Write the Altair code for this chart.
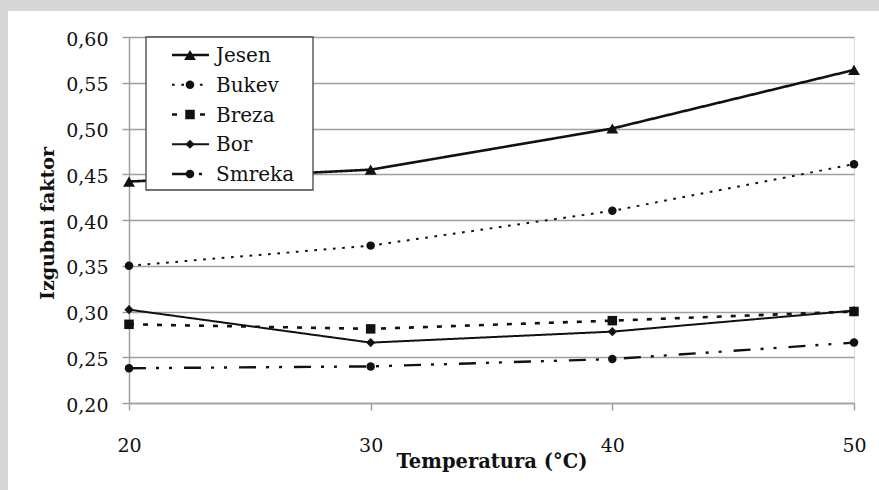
import altair as alt
import pandas as pd

# Loss factor of five wood species measured at four temperatures
temperatures = [20, 30, 40, 50]
series_names = ["Jesen", "Bukev", "Breza", "Bor", "Smreka"]
jesen = [0.442, 0.455, 0.500, 0.564]
bukev = [0.350, 0.372, 0.410, 0.461]
breza = [0.286, 0.281, 0.290, 0.300]
bor = [0.302, 0.266, 0.278, 0.301]
smreka = [0.238, 0.240, 0.248, 0.266]
y_ticks = [0.20, 0.25, 0.30, 0.35, 0.40, 0.45, 0.50, 0.55, 0.60]

# Per-series styling (same order as series_names)
marker_shapes = ["triangle-up", "circle", "square", "diamond", "circle"]
dash_patterns = [[1, 0], [2.7, 6.6], [5, 9], [1, 0], [17, 10, 3, 10, 3, 12]]
line_widths = [2.6, 2.0, 2.6, 2.0, 2.4]
marker_sizes = [140, 72, 90, 85, 72]

values_by_series = [jesen, bukev, breza, bor, smreka]
rows = []
for name, vals in zip(series_names, values_by_series):
    for t, v in zip(temperatures, vals):
        rows.append({"series": name, "temp": t, "value": v})
df = pd.DataFrame(rows)
legend_df = pd.DataFrame({"series": series_names})
one_row = pd.DataFrame({"k": [0]})

SERIF = "DejaVu Serif"
INK = "#111111"
GRID = "#a0a0a0"
BAND = "#d5d6d8"

dash_scale = alt.Scale(domain=series_names, range=dash_patterns)
shape_scale = alt.Scale(domain=series_names, range=marker_shapes)
width_scale = alt.Scale(type="ordinal", domain=series_names, range=line_widths)
size_scale = alt.Scale(type="ordinal", domain=series_names, range=marker_sizes)

x_enc = alt.X(
    "temp:Q",
    scale=alt.Scale(domain=[20, 50], nice=False, zero=False),
    axis=alt.Axis(
        values=temperatures, grid=False, title="Temperatura (°C)",
        titleFontSize=19.5, titleFontWeight="bold", titleColor=INK,
        titleX=362.5, titleY=64, titleAlign="center", titleBaseline="alphabetic",
        labelFontSize=19, labelColor=INK, labelPadding=41,
        labelBaseline="alphabetic", labelFlush=False,
        domainColor=GRID, domainWidth=1.5, tickColor=GRID, tickWidth=1.5, tickSize=7,
    ),
)
y_enc = alt.Y(
    "value:Q",
    scale=alt.Scale(domain=[0.2, 0.6], nice=False, zero=False),
    axis=alt.Axis(
        values=y_ticks, grid=True, gridColor=GRID, gridWidth=1.5,
        labelExpr="replace(format(datum.value, '.2f'), '.', ',')",
        labelFontSize=19, labelColor=INK, labelPadding=14, labelOffset=2,
        labelFlush=False,
        domainColor=GRID, domainWidth=1.5, tickColor=GRID, tickWidth=1.5, tickSize=7,
        title="Izgubni faktor", titleFontSize=19, titleFontWeight="bold",
        titleColor=INK, titleAngle=270, titleX=-76, titleY=186, titleAlign="center",
        titleBaseline="alphabetic",
    ),
)

lines = alt.Chart(df).mark_line(interpolate="linear", color=INK).encode(
    x=x_enc,
    y=y_enc,
    detail="series:N",
    strokeDash=alt.StrokeDash("series:N", scale=dash_scale, legend=None),
    strokeWidth=alt.StrokeWidth("series:N", scale=width_scale, legend=None),
)
points = alt.Chart(df).mark_point(filled=True, color=INK, opacity=1).encode(
    x=x_enc,
    y=y_enc,
    shape=alt.Shape("series:N", scale=shape_scale, legend=None),
    size=alt.Size("series:N", scale=size_scale, legend=None),
)
main = alt.layer(lines, points)

# Grey frame strips along the top and left edge
band_top = alt.Chart(one_row).mark_rect(color=BAND).encode(
    x=alt.value(-129), x2=alt.value(750), y=alt.value(-37), y2=alt.value(-26)
)
band_left = alt.Chart(one_row).mark_rect(color=BAND).encode(
    x=alt.value(-129), x2=alt.value(-121), y=alt.value(-37), y2=alt.value(453)
)

# Hand-built legend box with line + marker samples
legend_box = alt.Chart(one_row).mark_rect(fill="white", stroke="#444444", strokeWidth=1.3).encode(
    x=alt.value(17), x2=alt.value(184), y=alt.value(0), y2=alt.value(153)
)
legend_y = alt.Y(
    "series:N",
    scale=alt.Scale(type="point", domain=series_names, range=[18, 137], padding=0),
    axis=None,
)
legend_rules = alt.Chart(legend_df).mark_rule(color=INK).encode(
    x=alt.value(43), x2=alt.value(80), y=legend_y,
    strokeDash=alt.StrokeDash("series:N", scale=dash_scale, legend=None),
    strokeWidth=alt.StrokeWidth("series:N", scale=width_scale, legend=None),
)
legend_marks = alt.Chart(legend_df).mark_point(filled=True, color=INK, opacity=1).encode(
    x=alt.value(61), y=legend_y,
    shape=alt.Shape("series:N", scale=shape_scale, legend=None),
    size=alt.Size("series:N", scale=size_scale, legend=None),
)
legend_text = alt.Chart(legend_df).mark_text(
    align="left", baseline="middle", fontSize=20, color=INK, dy=1
).encode(x=alt.value(87), y=legend_y, text="series:N")
legend = alt.layer(legend_rules, legend_marks, legend_text)

chart = (
    alt.layer(band_top, band_left, main, legend_box, legend)
    .resolve_scale(y="independent")
    .properties(
        width=725,
        height=366,
        padding={"left": 129, "top": 37, "right": 25, "bottom": 87},
        autosize=alt.AutoSizeParams(type="none"),
        background="white",
    )
    .configure_view(stroke=GRID, strokeWidth=1.5)
    .configure(font=SERIF)
)

chart.save("out.html", embed_options={"renderer": "svg", "actions": False})
